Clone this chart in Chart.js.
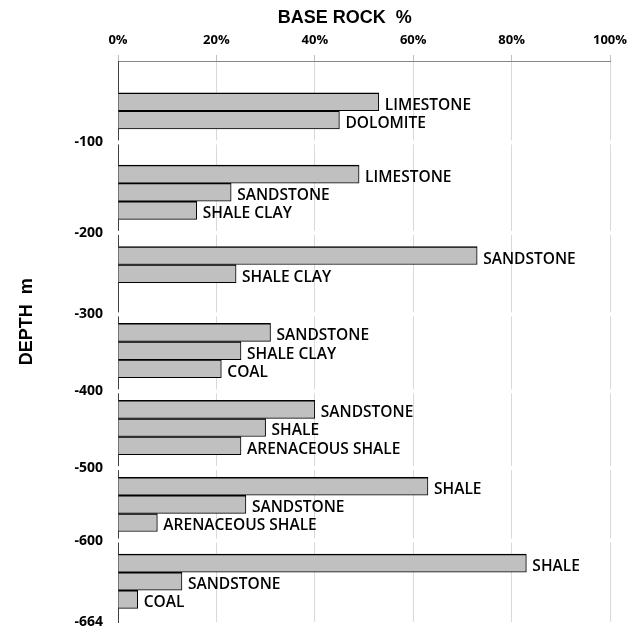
<!DOCTYPE html>
<html>
<head>
<meta charset="utf-8">
<script src="https://cdn.jsdelivr.net/npm/chart.js@4"></script>
<style>
  body { margin: 0; background: #fff; }
</style>
</head>
<body>
<canvas id="chart" width="627" height="629"></canvas>
<script>
// bars, top to bottom
const rocks = ['LIMESTONE', 'DOLOMITE',
    'LIMESTONE', 'SANDSTONE', 'SHALE CLAY',
    'SANDSTONE', 'SHALE CLAY',
    'SANDSTONE', 'SHALE CLAY', 'COAL',
    'SANDSTONE', 'SHALE', 'ARENACEOUS SHALE',
    'SHALE', 'SANDSTONE', 'ARENACEOUS SHALE',
    'SHALE', 'SANDSTONE', 'COAL'];
const basePercent = [53, 45, 49, 23, 16, 73, 24, 31, 25, 21, 40, 30, 25, 63, 26, 8, 83, 13, 4];
// depth interval of each bar (index into depthLabels)
const zone = [0, 0, 1, 1, 1, 2, 2, 3, 3, 3, 4, 4, 4, 5, 5, 5, 6, 6, 6];
const depthLabels = ['-100', '-200', '-300', '-400', '-500', '-600', '-664'];

// layout: the y axis is cut in rows a quarter of a bar high
const ROWS = 125;
const zoneFirstRow = [9, 25, 43, 60, 77, 94, 111];
const depthRow = [18, 38, 56, 73, 90, 106, 124];

const rowLabels = new Array(ROWS).fill('');
const rowValues = new Array(ROWS).fill(null);
const rowRock = new Array(ROWS).fill('');
depthRow.forEach((r, i) => { rowLabels[r] = depthLabels[i]; });
const used = depthLabels.map(() => 0);
rocks.forEach((name, i) => {
    const r = zoneFirstRow[zone[i]] + 4 * used[zone[i]]++;
    rowValues[r] = basePercent[i];
    rowRock[r] = name;
});

const ctx = document.getElementById('chart').getContext('2d');

// white breaks in the grid at each depth mark
const depthGaps = {
    id: 'depthGaps',
    beforeDatasetsDraw(chart) {
        const { ctx: c, chartArea: a, scales: { y } } = chart;
        c.save();
        c.fillStyle = '#fff';
        depthRow.slice(0, -1).forEach(r => {
            const py = y.getPixelForValue(r);
            c.fillRect(a.left - 3, py - 2, a.right - a.left + 6, 4);
        });
        c.restore();
    }
};

// rock name after each bar
const barLabels = {
    id: 'barLabels',
    afterDatasetsDraw(chart) {
        const c = chart.ctx;
        c.save();
        c.font = '600 15.5px "Open Sans"';
        c.fillStyle = '#000';
        c.textBaseline = 'alphabetic';
        chart.getDatasetMeta(0).data.forEach((bar, i) => {
            if (!rowRock[i]) return;
            c.fillText(rowRock[i], bar.x + 6, bar.y + 8);
        });
        c.restore();
    }
};

const axisTitles = {
    id: 'axisTitles',
    afterDraw(chart) {
        const { ctx: c, chartArea: a } = chart;
        c.save();
        c.font = 'bold 18px "Liberation Sans"';
        c.fillStyle = '#000';
        c.textAlign = 'center';
        c.textBaseline = 'middle';
        c.fillText('BASE ROCK  %', a.left + (a.right - a.left) * 0.461, 18);
        c.translate(27, a.top + (a.bottom - a.top) * 0.465);
        c.rotate(-Math.PI / 2);
        c.fillText('DEPTH  m', 0, 0);
        c.restore();
    }
};

let chart = new Chart(ctx, {
    type: 'bar',
    data: {
        labels: rowLabels,
        datasets: [{
            data: rowValues,
            backgroundColor: '#c0c0c0',
            borderColor: '#000',
            borderWidth: { top: 1.5, bottom: 1, right: 1, left: 0 },
            barThickness: 18
        }]
    },
    options: {
        indexAxis: 'y',
        responsive: false,
        animation: false,
        layout: { padding: { top: 0, right: 17, bottom: 7, left: 0 } },
        plugins: { legend: { display: false }, tooltip: { enabled: false } },
        scales: {
            x: {
                position: 'top',
                min: 0,
                max: 100,
                ticks: {
                    stepSize: 20,
                    callback: v => v + '%',
                    color: '#000',
                    padding: 7,
                    font: { family: 'Open Sans', size: 13, weight: 'bold' }
                },
                grid: { color: '#d9d9d9', tickColor: '#bfbfbf', tickLength: 6 },
                border: { color: '#868686' },
                afterFit: s => { s.height = 61; s.paddingLeft = 0; s.paddingRight = 0; }
            },
            y: {
                offset: false,
                grid: { display: false, drawTicks: false },
                border: { color: '#404040' },
                ticks: {
                    autoSkip: false,
                    padding: 15,
                    color: '#000',
                    font: { family: 'Open Sans', size: 14, weight: 'bold' }
                },
                afterFit: s => { s.width = 118; s.paddingTop = 0; s.paddingBottom = 0; }
            }
        }
    },
    plugins: [depthGaps, barLabels, axisTitles]
});
</script>
</body>
</html>
